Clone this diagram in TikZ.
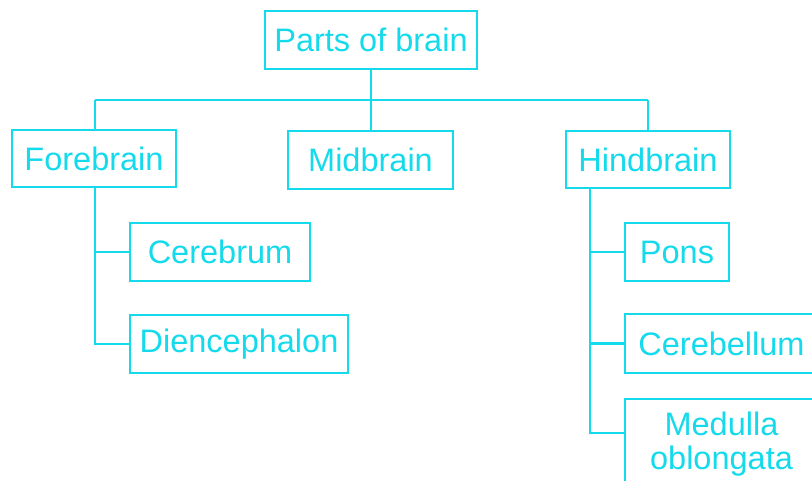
\documentclass[tikz,border=0pt]{standalone}
\usepackage{fontspec}
\setmainfont{Liberation Sans}
\definecolor{cy}{RGB}{20,218,236}
\begin{document}
\begin{tikzpicture}[x=1pt,y=-1pt,
  box/.style={draw=cy,line width=2.8pt,text=cy,inner sep=0pt,
    font=\fontsize{32.5}{36}\selectfont,align=center},
  conn/.style={draw=cy,line width=2.3pt}]
\useasboundingbox (0,0) rectangle (812,480);
\clip (0,0) rectangle (812,480);
\node[box,minimum width=212pt,minimum height=58pt] (parts) at (371,40) {Parts of brain};
\node[box,minimum width=164pt,minimum height=57pt] (fore) at (94,158.5) {Forebrain};
\node[box,minimum width=165pt,minimum height=58pt] (mid) at (370.5,160) {Midbrain};
\node[box,minimum width=164pt,minimum height=57pt] (hind) at (648,159.5) {Hindbrain};
\node[box,minimum width=180pt,minimum height=58pt] (cerebrum) at (220,252) {Cerebrum};
\node[box,minimum width=218pt,minimum height=58pt] (dien) at (239,344) {Diencephalon};
\node[box,minimum width=104pt,minimum height=58pt] (pons) at (677,252) {Pons};
\node[box,minimum width=193pt,minimum height=59pt] (cerebellum) at (721.5,343.5) {Cerebellum};
\node[box,minimum width=193pt,minimum height=90pt] (medulla) at (721.5,444) {Medulla\\[-2pt]oblongata};
% top tree
\coordinate (hub) at (371,100);
\coordinate (hl) at (95,100);
\coordinate (hr) at (648,100);
\draw[conn] (parts.south) -- (hub);
\draw[conn] (hl) -- (hr);
\draw[conn] (hl) -- (hl |- fore.north);
\draw[conn] (hub) -- (hub |- mid.north);
\draw[conn] (hr) -- (hr |- hind.north);
% forebrain branch
\coordinate (fs) at (95,187);
\draw[conn] (fs) |- (dien.west);
\draw[conn] (fs |- cerebrum.west) -- (cerebrum.west);
% hindbrain branch
\coordinate (hs) at (590,188);
\coordinate (mj) at (590,433);
\draw[conn] (hs) -- (mj) -- (mj -| medulla.west);
\draw[conn] (hs |- pons.west) -- (pons.west);
\draw[conn] (hs |- cerebellum.west) -- (cerebellum.west);
\end{tikzpicture}
\end{document}
